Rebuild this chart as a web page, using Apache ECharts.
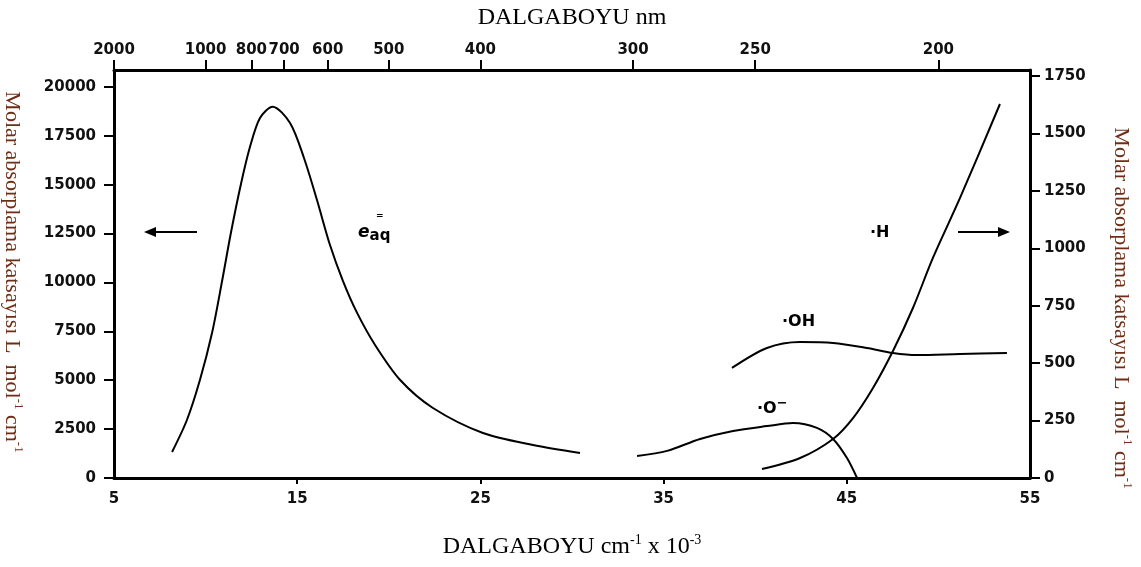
<!DOCTYPE html>
<html>
<head>
<meta charset="utf-8">
<script src="https://cdn.jsdelivr.net/npm/echarts@6/dist/echarts.min.js"></script>
<style>
  html, body { margin: 0; padding: 0; background: #fff; }
  #chart { width: 1141px; height: 567px; }
</style>
</head>
<body>
<div id="chart"></div>
<script>
// e_aq (sol eksen)
const eaqX = [8.17, 8.98, 9.69, 10.35, 10.9, 11.39, 11.93, 12.42, 12.97, 13.66, 14.61, 15.37, 16.08, 16.79, 17.5, 18.27, 19.25, 20.62, 22.41, 25.14, 27.87, 30.44]
const eaqY = [1330, 2965, 5010, 7410, 10070, 12575, 15030, 16920, 18400, 18980, 18150, 16360, 14210, 11910, 10070, 8440, 6800, 5010, 3580, 2300, 1690, 1280]
// O- (sag eksen)
const oX = [33.55, 35.19, 36.99, 38.79, 40.64, 42.06, 43.37, 44.25, 45.01, 45.56]
const oY = [96, 118, 170, 205, 226, 239, 218, 170, 87, 0]
// OH (sag eksen)
const ohX = [38.73, 40.64, 42.45, 44.25, 46.1, 47.52, 48.83, 51.18, 53.74]
const ohY = [479, 566, 592, 588, 566, 544, 535, 540, 544]
// H (sag eksen)
const hX = [40.37, 42.45, 44.25, 45.34, 46.43, 47.52, 48.61, 49.7, 51.18, 53.36]
const hY = [39, 87, 170, 261, 392, 553, 740, 958, 1219, 1628]

// eksen etiketleri
const bottomTicks = [5, 15, 25, 35, 45, 55]
const topNm = [2000, 1000, 800, 700, 600, 500, 400, 300, 250, 200]
const leftTicks = [0, 2500, 5000, 7500, 10000, 12500, 15000, 17500, 20000]
const rightTicks = [0, 250, 500, 750, 1000, 1250, 1500, 1750]

// nm -> cm-1 x 10^-3
const topPos = topNm.map(nm => 10000 / nm)
const pairs = (xs, ys) => xs.map((x, i) => [x, ys[i]])

const tickFont = { color: '#111', fontFamily: 'DejaVu Sans', fontWeight: 'bold', fontSize: 15 }
const axisLine = { show: true, onZero: false, lineStyle: { color: '#000', width: 3 } }
const tickLine = { color: '#000', width: 2 }
const sideColor = '#6e2e16'

const chart = echarts.init(document.getElementById('chart'))

const lineSeries = (name, data, yIdx) => ({
    name: name,
    type: 'line',
    data: data,
    yAxisIndex: yIdx,
    smooth: 0.3,
    symbol: 'none',
    lineStyle: { color: '#000', width: 2 },
    z: 3
})

const sideRich = {
    a: { fontFamily: 'Liberation Serif', fontSize: 22, fill: sideColor },
    s: { fontFamily: 'Liberation Serif', fontSize: 13, fill: sideColor, padding: [0, 0, 13, 0] }
}
const sideText = '{a|Molar absorplama katsayısı L  mol}{s|-1}{a| cm}{s|-1}'

const option = {
    animation: false,
    backgroundColor: '#fff',
    grid: { left: 114, right: 111, top: 70, bottom: 89 },
    xAxis: [
        {
            type: 'value', position: 'bottom', min: 5, max: 55,
            axisLine: axisLine,
            axisTick: { customValues: bottomTicks.slice(1, -1), length: 6, lineStyle: tickLine },
            axisLabel: Object.assign({ customValues: bottomTicks, margin: 14 }, tickFont),
            splitLine: { show: false },
            name: '{a|DALGABOYU cm}{s|-1}{a| x 10}{s|-3}',
            nameLocation: 'middle', nameGap: 55,
            nameTextStyle: {
                rich: {
                    a: { fontFamily: 'Liberation Serif', fontSize: 24, color: '#000' },
                    s: { fontFamily: 'Liberation Serif', fontSize: 14, color: '#000', padding: [0, 0, 14, 0] }
                }
            }
        },
        {
            type: 'value', position: 'top', min: 5, max: 55,
            axisLine: axisLine,
            axisTick: { customValues: topPos, length: 10, lineStyle: tickLine },
            axisLabel: Object.assign({
                customValues: topPos, margin: 12,
                formatter: v => String(Math.round(10000 / v))
            }, tickFont),
            splitLine: { show: false },
            name: 'DALGABOYU nm',
            nameLocation: 'middle', nameGap: 40,
            nameTextStyle: { fontFamily: 'Liberation Serif', fontSize: 24, color: '#000' }
        }
    ],
    yAxis: [
        {
            type: 'value', position: 'left', min: 0, max: 20860,
            axisLine: axisLine,
            axisTick: { customValues: leftTicks, length: 10, lineStyle: tickLine },
            axisLabel: Object.assign({ customValues: leftTicks, margin: 18, formatter: v => String(v) }, tickFont),
            splitLine: { show: false }
        },
        {
            type: 'value', position: 'right', min: 0, max: 1776,
            axisLine: axisLine,
            axisTick: { customValues: rightTicks, length: 10, lineStyle: tickLine },
            axisLabel: Object.assign({ customValues: rightTicks, margin: 14, formatter: v => String(v) }, tickFont),
            splitLine: { show: false }
        }
    ],
    series: [
        lineSeries('eaq', pairs(eaqX, eaqY), 0),
        lineSeries('O-', pairs(oX, oY), 1),
        lineSeries('OH', pairs(ohX, ohY), 1),
        lineSeries('H', pairs(hX, hY), 1)
    ],
    graphic: [
        // yan eksen basliklari
        {
            type: 'text', x: 12, y: 272, rotation: -Math.PI / 2,
            style: { text: sideText, textAlign: 'center', textVerticalAlign: 'middle', align: 'center', verticalAlign: 'middle', rich: sideRich }
        },
        {
            type: 'text', x: 1121, y: 308, rotation: -Math.PI / 2,
            style: { text: sideText, textAlign: 'center', textVerticalAlign: 'middle', align: 'center', verticalAlign: 'middle', rich: sideRich }
        },
        // oklar
        { type: 'line', shape: { x1: 197, y1: 232, x2: 150, y2: 232 }, style: { stroke: '#000', lineWidth: 2 } },
        { type: 'polygon', shape: { points: [[144, 232], [156, 227], [156, 237]] }, style: { fill: '#000' } },
        { type: 'line', shape: { x1: 958, y1: 232, x2: 1003, y2: 232 }, style: { stroke: '#000', lineWidth: 2 } },
        { type: 'polygon', shape: { points: [[1010, 232], [998, 227], [998, 237]] }, style: { fill: '#000' } },
        // egri etiketleri
        {
            type: 'text', x: 358, y: 221,
            style: {
                text: '{e|e}{s|aq}',
                rich: {
                    e: { fontFamily: 'DejaVu Sans', fontStyle: 'italic', fontWeight: 'bold', fontSize: 17, fill: '#000' },
                    s: { fontFamily: 'DejaVu Sans', fontWeight: 'bold', fontSize: 15, fill: '#000', padding: [8, 0, 0, 0] }
                }
            }
        },
        { type: 'text', x: 376, y: 211, style: { text: '=', fontFamily: 'DejaVu Sans', fontSize: 9, fontWeight: 'bold', fill: '#000' } },
        { type: 'text', x: 870, y: 225, style: { text: '·H', fontFamily: 'DejaVu Sans', fontWeight: 'bold', fontSize: 16, fill: '#000' } },
        { type: 'text', x: 782, y: 314, style: { text: '·OH', fontFamily: 'DejaVu Sans', fontWeight: 'bold', fontSize: 16, fill: '#000' } },
        {
            type: 'text', x: 757, y: 397,
            style: {
                text: '{a|·O}{s|−}',
                rich: {
                    a: { fontFamily: 'DejaVu Sans', fontWeight: 'bold', fontSize: 16, fill: '#000' },
                    s: { fontFamily: 'DejaVu Sans', fontWeight: 'bold', fontSize: 13, fill: '#000', padding: [0, 0, 10, 0] }
                }
            }
        }
    ]
}

chart.setOption(option)
</script>
</body>
</html>
